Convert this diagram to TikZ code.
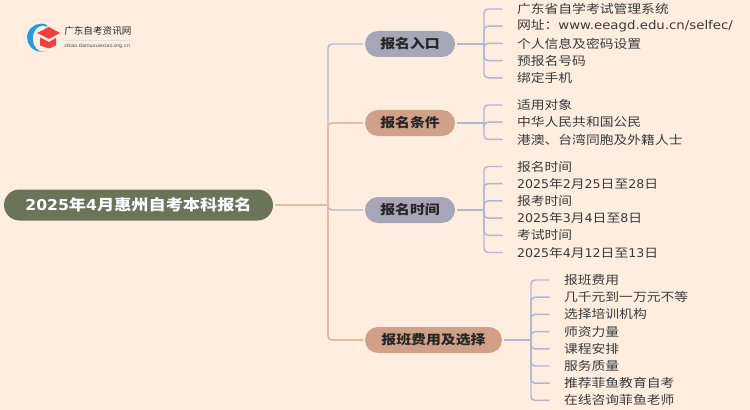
\documentclass[tikz,border=0pt]{standalone}
\usepackage{fontspec}
\usepackage{tikz}
\usetikzlibrary{positioning}
\setmainfont{DejaVu Sans}
\newfontfamily\zh[FakeStretch=1.15]{Noto Sans CJK SC}
\newfontfamily\zhplain{Noto Sans CJK SC}
\newfontfamily\lat[FakeStretch=1.05]{DejaVu Sans}
\newfontfamily\latwide[FakeStretch=1.11]{DejaVu Sans}
\definecolor{paper}{HTML}{FFEEE0}
\definecolor{rootgreen}{HTML}{6B7358}
\definecolor{slate}{HTML}{A6A6B8}
\definecolor{clay}{HTML}{D0A088}
\definecolor{slateline}{HTML}{B4B6CC}
\definecolor{clayline}{HTML}{E5BAA4}
\definecolor{ink}{HTML}{3A3A3A}
\definecolor{logoblue}{HTML}{2A9ADB}
\definecolor{logored}{HTML}{EE4040}
\tikzstyle{rootnode} = [rectangle, rounded corners=15.5*0.75pt, minimum width=269*0.75pt, minimum height=31*0.75pt, text centered, fill=rootgreen, text=white, font=\fontsize{11.2pt}{12pt}\zh\bfseries, inner sep=0pt, outer sep=1.5pt]
\tikzstyle{branch} = [rectangle, rounded corners=13*0.75pt, minimum height=26*0.75pt, text centered, text=black!85, font=\fontsize{9.7pt}{12pt}\zh\bfseries, inner sep=0pt, outer sep=1.5pt]
\tikzstyle{leaf} = [rectangle, text width=180*0.75pt, align=left, inner xsep=14*0.75pt, inner ysep=0pt, text=ink, font=\fontsize{9pt}{11pt}\zh]
\tikzstyle{slatelink} = [draw=slateline, line width=1.1pt, rounded corners=3pt]
\tikzstyle{claylink} = [draw=clayline, line width=1.3pt, rounded corners=3pt]
\begin{document}
\begin{tikzpicture}[x=0.75pt, y=-0.75pt, node distance=17.2*0.75pt]

\useasboundingbox [fill=paper] (0,0) rectangle (750,410);

% logo
\fill [logoblue] (47,25) arc (-65:-295:14) arc (-295:-65:10 and 13) -- cycle;
\fill [logored] (37,33) -- (49,27) -- (60,33) -- (49,39) -- cycle;
\fill [logored] (40,37.5) -- (49,42) -- (56,38) -- (56,45.5) -- (49,48.5) -- (40,45.5) -- cycle;
\node (logotext) [anchor=west, inner sep=0pt, font=\fontsize{7.2pt}{9pt}\zhplain, text=black!85] at (64,31) {广东自考资讯网};
\node (logourl) [anchor=west, inner sep=0pt, font=\fontsize{3.6pt}{4pt}\lat, text=black!70] at (64,46) {zikao.daniuxuexiao.org.cn};
\draw [black!12, line width=0.4pt] (logotext.west |- 0,40) -- (131,40);

\node (root) [rootnode] at (138.5,205) {\lat\bfseries 2025{\zh 年}4{\zh 月}{\zh 惠州自考本科报名}};

\node (entry) [branch, fill=slate, minimum width=90*0.75pt] at (410,44) {报名入口};
\node (cond) [branch, fill=clay, minimum width=90*0.75pt] at (410,123) {报名条件};
\node (date) [branch, fill=slate, minimum width=90*0.75pt] at (410,210) {报名时间};
\node (fee) [branch, fill=clay, minimum width=137*0.75pt] at (433.5,340) {报班费用及选择};

\coordinate (trunk) at (328,205);
\coordinate (busa) at (484,44);
\coordinate (busb) at (484,123);
\coordinate (busc) at (484,210);
\coordinate (busd) at (531,340);

% first group
\node (a1) [leaf] at (607,9) {广东省自学考试管理系统};
\node (a2) [leaf, below of=a1] {网址：{\latwide www.eeagd.edu.cn/selfec/}};
\node (a3) [leaf, below of=a2] {个人信息及密码设置};
\node (a4) [leaf, below of=a3] {预报名号码};
\node (a5) [leaf, below of=a4] {绑定手机};

% second group
\node (b1) [leaf] at (607,105) {适用对象};
\node (b2) [leaf, below of=b1] {中华人民共和国公民};
\node (b3) [leaf, below of=b2] {港澳、台湾同胞及外籍人士};

% third group
\node (c1) [leaf] at (607,166.5) {报名时间};
\node (c2) [leaf, below of=c1] {{\lat 2025}年{\lat 2}月{\lat 25}日至{\lat 28}日};
\node (c3) [leaf, below of=c2] {报考时间};
\node (c4) [leaf, below of=c3] {{\lat 2025}年{\lat 3}月{\lat 4}日至{\lat 8}日};
\node (c5) [leaf, below of=c4] {考试时间};
\node (c6) [leaf, below of=c5] {{\lat 2025}年{\lat 4}月{\lat 12}日至{\lat 13}日};

% fourth group
\node (d1) [leaf] at (654,280) {报班费用};
\node (d2) [leaf, below of=d1] {几千元到一万元不等};
\node (d3) [leaf, below of=d2] {选择培训机构};
\node (d4) [leaf, below of=d3] {师资力量};
\node (d5) [leaf, below of=d4] {课程安排};
\node (d6) [leaf, below of=d5] {服务质量};
\node (d7) [leaf, below of=d6] {推荐菲鱼教育自考};
\node (d8) [leaf, below of=d7] {在线咨询菲鱼老师};

\draw [slatelink] (trunk) |- (entry);
\draw [slatelink] (trunk) |- (date);
\draw [claylink] (root) -- (trunk);
\draw [claylink] (trunk) |- (cond);
\draw [claylink] (trunk) |- (fee);

\draw [slatelink] (entry) -- (busa);
\draw [slatelink] (cond) -- (busb);
\draw [slatelink] (date) -- (busc);
\draw [slatelink] (fee) -- (busd);

\foreach \leafname in {a1,a2,a3,a4,a5}
  \draw [slatelink] (busa) |- (\leafname.west);
\foreach \leafname in {b1,b2,b3}
  \draw [slatelink] (busb) |- (\leafname.west);
\foreach \leafname in {c1,c2,c3,c4,c5,c6}
  \draw [slatelink] (busc) |- (\leafname.west);
\foreach \leafname in {d1,d2,d3,d4,d5,d6,d7,d8}
  \draw [slatelink] (busd) |- (\leafname.west);

\end{tikzpicture}
\end{document}
